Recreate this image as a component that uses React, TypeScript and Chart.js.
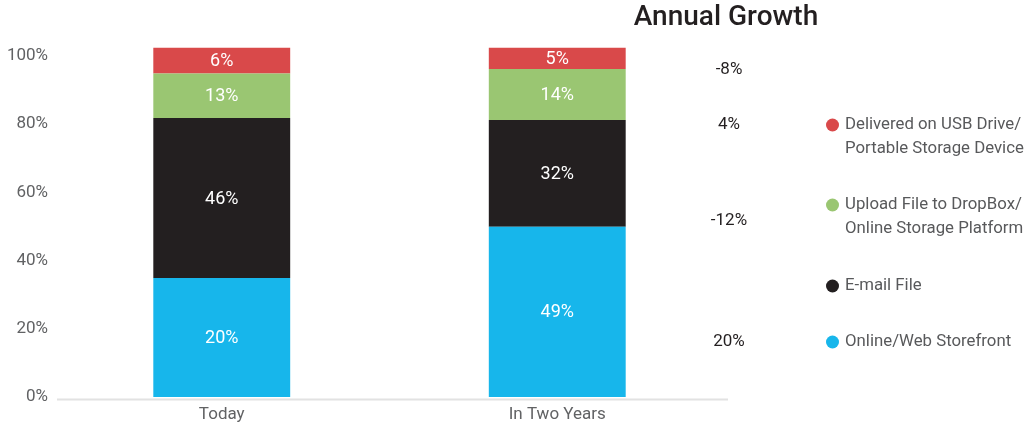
import React, { useEffect, useRef } from "react";
import Chart from "chart.js/auto";

const categories = ["Today", "In Two Years"];

const onlineValues = [34.9, 49.9];
const emailValues = [46.9, 31.3];
const uploadValues = [13.1, 15.0];
const usbValues = [7.5, 6.2];

const onlineLabels = ["20%", "49%"];
const emailLabels = ["46%", "32%"];
const uploadLabels = ["13%", "14%"];
const usbLabels = ["6%", "5%"];

const seriesNames = [
  "Online/Web Storefront",
  "E-mail File",
  "Upload File to DropBox/Online Storage Platform",
  "Delivered on USB Drive/Portable Storage Device",
];

// legend, top to bottom
const legendLines = [
  ["Delivered on USB Drive/", "Portable Storage Device"],
  ["Upload File to DropBox/", "Online Storage Platform"],
  ["E-mail File"],
  ["Online/Web Storefront"],
];
const growthLabels = ["-8%", "4%", "-12%", "20%"];
const growthTitle = "Annual Growth";

const COLORS = {
  online: "#17b6eb",
  email: "#231f20",
  upload: "#9ac672",
  usb: "#d9494a",
};
const legendColors = [COLORS.usb, COLORS.upload, COLORS.email, COLORS.online];

const FONT = "Roboto, 'Open Sans', sans-serif";

const overlayPlugin = {
  id: "overlay",
  afterDatasetsDraw(chart: any) {
    const ctx = chart.ctx;
    const labelSets = [onlineLabels, emailLabels, uploadLabels, usbLabels];
    ctx.save();
    ctx.fillStyle = "#ffffff";
    ctx.font = `18px ${FONT}`;
    ctx.textAlign = "center";
    ctx.textBaseline = "middle";
    chart.data.datasets.forEach((ds: any, di: number) => {
      const meta = chart.getDatasetMeta(di);
      meta.data.forEach((el: any, i: number) => {
        const cy = (el.y + el.base) / 2;
        ctx.fillText(labelSets[di][i], el.x, cy + 1);
      });
    });
    ctx.restore();
  },
  afterDraw(chart: any) {
    const ctx = chart.ctx;
    const area = chart.chartArea;
    ctx.save();
    // axis line
    ctx.strokeStyle = "#e2e2e2";
    ctx.lineWidth = 2;
    ctx.beginPath();
    ctx.moveTo(57, area.bottom + 2.5);
    ctx.lineTo(728, area.bottom + 2.5);
    ctx.stroke();

    // title
    ctx.fillStyle = "#231f20";
    ctx.font = `500 28px ${FONT}`;
    ctx.textAlign = "center";
    ctx.textBaseline = "middle";
    ctx.fillText(growthTitle, 726, 18);

    // growth values
    const gy = [70, 125, 221, 342];
    ctx.font = `17px ${FONT}`;
    growthLabels.forEach((g, i) => {
      ctx.fillText(g, 729, gy[i]);
    });

    // legend
    const ly = [125, 205, 286, 342];
    ctx.textAlign = "left";
    ctx.font = `16.8px ${FONT}`;
    legendLines.forEach((lines, i) => {
      ctx.fillStyle = legendColors[i];
      ctx.beginPath();
      ctx.arc(832.5, ly[i], 6.5, 0, Math.PI * 2);
      ctx.fill();
      ctx.fillStyle = "#58595b";
      lines.forEach((t, j) => {
        ctx.fillText(t, 845, ly[i] + j * 24);
      });
    });
    ctx.restore();
  },
};

export default function App() {
  const ref = useRef<HTMLCanvasElement | null>(null);
  useEffect(() => {
    document.body.style.margin = "0";
    const canvas = ref.current;
    if (!canvas) return;
    const chart = new Chart(canvas, {
      type: "bar",
      data: {
        labels: categories,
        datasets: [
          { label: seriesNames[0], data: onlineValues, backgroundColor: COLORS.online },
          { label: seriesNames[1], data: emailValues, backgroundColor: COLORS.email },
          { label: seriesNames[2], data: uploadValues, backgroundColor: COLORS.upload },
          { label: seriesNames[3], data: usbValues, backgroundColor: COLORS.usb },
        ],
      },
      options: {
        responsive: false,
        animation: false,
        events: [],
        layout: { padding: { top: 56, right: 302, bottom: 0, left: 0 } },
        datasets: { bar: { barPercentage: 0.408, categoryPercentage: 1, clip: false as any, borderWidth: 0 } },
        plugins: { legend: { display: false }, tooltip: { enabled: false }, title: { display: false } },
        scales: {
          x: {
            stacked: true,
            grid: { display: false, drawTicks: false },
            border: { display: false },
            ticks: { color: "#616264", font: { family: FONT, size: 17 }, padding: 8 },
            afterFit: (s: any) => { s.height = 30; },
          },
          y: {
            stacked: true,
            min: 0,
            max: 100,
            grid: { display: false, drawTicks: false },
            border: { display: false },
            ticks: {
              stepSize: 20,
              color: "#616264",
              font: { family: FONT, size: 17 },
              padding: 6,
              callback: (v: any) => `${v}%`,
            },
            afterFit: (s: any) => { s.width = 54; },
          },
        },
      },
      plugins: [overlayPlugin],
    });
    return () => chart.destroy();
  }, []);
  return <canvas ref={ref} width={1027} height={427} style={{ display: "block" }} />;
}
